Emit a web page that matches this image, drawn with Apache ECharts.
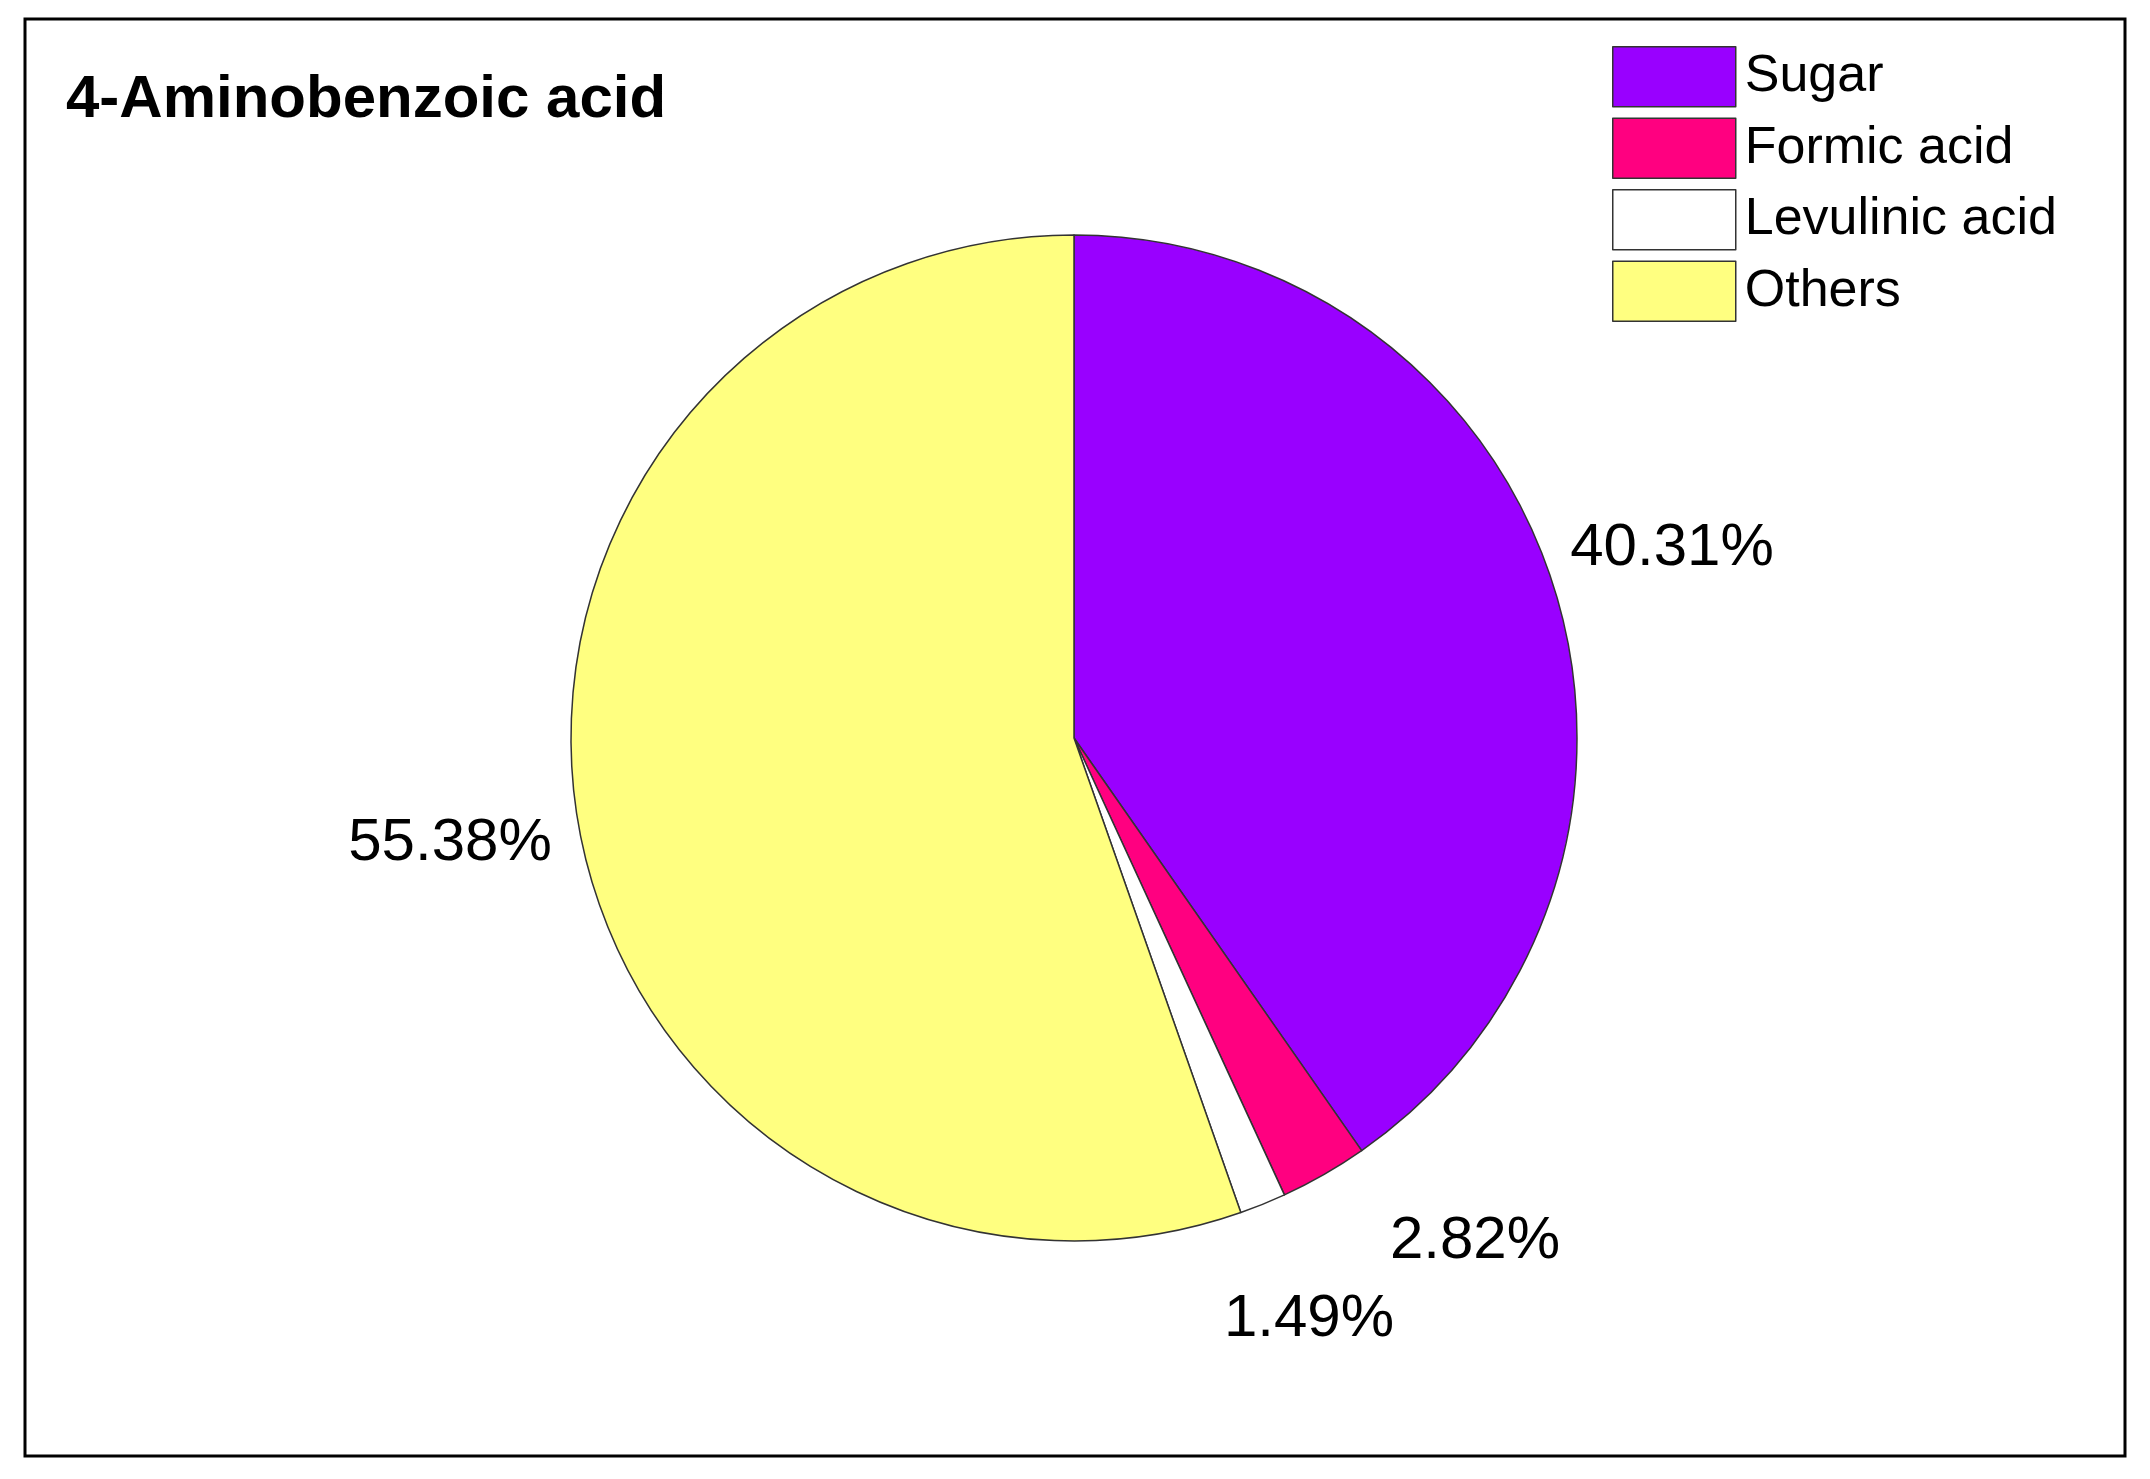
<!DOCTYPE html>
<html>
<head>
<meta charset="utf-8">
<script src="https://cdn.jsdelivr.net/npm/echarts@6/dist/echarts.min.js"></script>
<style>html,body{margin:0;background:#fff}#main{width:2150px;height:1479px}</style>
</head>
<body>
<div id="main"></div>
<script>
var categories = ['Sugar', 'Formic acid', 'Levulinic acid', 'Others'];
var values = [40.31, 2.82, 1.49, 55.38];
var colors = ['#9900ff', '#ff0080', '#ffffff', '#ffff80'];
// label anchor spots (centre of text)
var labelSpots = [[1672, 548], [1475, 1241], [1309, 1319], [450, 843]];

var chart = echarts.init(document.getElementById('main'));
var data = [];
for (var i = 0; i < categories.length; i++) {
	data.push({ name: categories[i], value: values[i], itemStyle: { color: colors[i] } });
}
chart.setOption({
	animation: false,
	textStyle: { fontFamily: 'Arial, Liberation Sans, sans-serif' },
	graphic: [
		{ type: 'rect', shape: { x: 25, y: 19, width: 2100, height: 1437 },
		  style: { fill: 'none', stroke: '#000', lineWidth: 3 } },
		{ type: 'text', left: 66, top: 70,
		  style: { text: '4-Aminobenzoic acid', font: 'bold 60px Arial, Liberation Sans, sans-serif', fill: '#000' } }
	],
	legend: {
		orient: 'vertical',
		left: 1607, top: 41,
		itemWidth: 123, itemHeight: 60, itemGap: 10,
		icon: 'rect',
		itemStyle: { borderColor: '#333', borderWidth: 1.5 },
		textStyle: { fontSize: 52, color: '#000', padding: [0, 0, 0, 4] },
		data: categories
	},
	series: [{
		type: 'pie',
		center: [1074, 738],
		radius: 503,
		startAngle: 90,
		clockwise: true,
		itemStyle: { borderColor: '#333', borderWidth: 1.5 },
		label: { show: true, position: 'outside', fontSize: 60, color: '#000',
			formatter: function (p) { return p.value.toFixed(2) + '%'; } },
		labelLine: { show: false },
		labelLayout: function (p) {
			var s = labelSpots[p.dataIndex];
			return { x: s[0], y: s[1], align: 'center', verticalAlign: 'middle' };
		},
		data: data
	}]
});
</script>
</body>
</html>
